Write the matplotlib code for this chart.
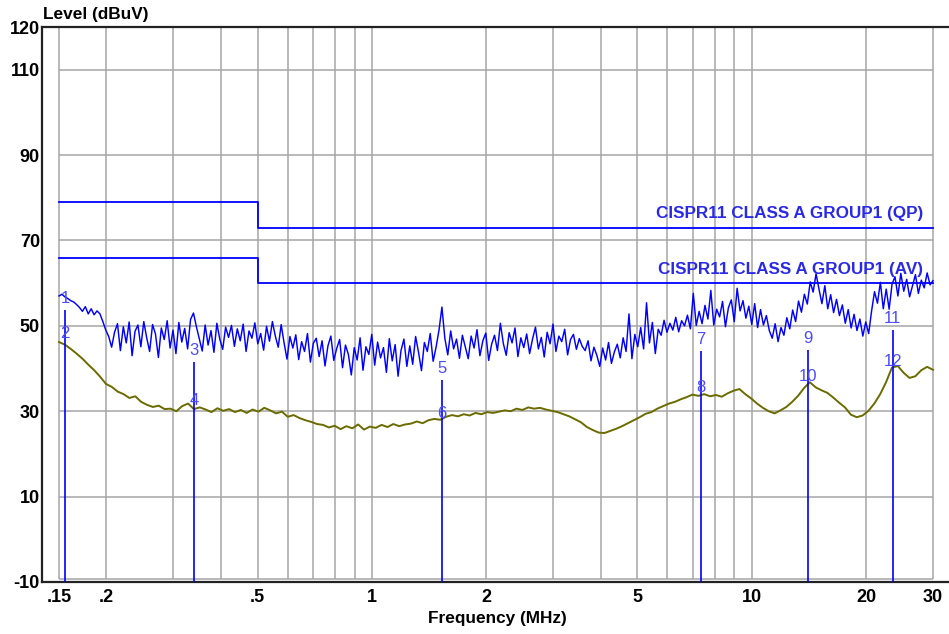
import numpy as np
import matplotlib
matplotlib.use("Agg")
import matplotlib.pyplot as plt

plt.rcParams["font.family"] = ["Liberation Sans", "DejaVu Sans"]

# ── DATA ──────────────────────────────────────────────────────────────────────

# limit lines (MHz, dBuV), stepped at 0.5 MHz
limit_freq = [0.15, 0.5, 0.5, 30]
qp_limit   = [79, 79, 73, 73]
av_limit   = [66, 66, 60, 60]

# peak scan (blue) on a log-spaced sweep 0.15 .. 30 MHz
peak_level = [
    57.0, 57.4, 56.8, 56.4, 55.9, 55.6, 55.0, 54.3, 53.4, 54.5, 52.8, 54.0, 52.6, 53.5, 52.8, 51.0, 49.0, 47.5, 45.0, 48.5,
    50.5, 44.2, 49.8, 46.0, 50.9, 43.0, 48.7, 50.2, 45.1, 51.0, 47.2, 44.0, 50.3, 48.1, 42.6, 49.5, 46.8, 51.2, 44.8, 49.0,
    43.5, 50.8, 46.2, 49.4, 44.6, 51.5, 53.0, 49.8, 47.0, 44.1, 50.2, 45.5, 48.9, 43.8, 50.6, 46.9, 44.5, 49.7, 47.3, 50.1,
    45.2, 49.3, 46.5, 50.4, 44.0, 48.8, 47.1, 50.7, 45.8, 48.2, 44.3, 49.9, 46.4, 51.0, 47.6, 45.0, 50.3, 46.0, 42.2, 47.5,
    44.8, 47.9, 42.1, 46.3, 44.0, 48.2, 41.5, 45.9, 47.1, 42.8, 46.5, 40.6, 45.3, 47.6, 41.9, 44.7, 46.8, 40.2, 45.5, 43.3,
    38.5, 44.9, 42.0, 47.2, 39.6, 45.1, 43.3, 48.0, 40.8, 46.2, 42.5, 44.9, 39.1, 47.0, 41.8, 45.6, 38.2, 44.2, 46.9, 40.5,
    45.3, 41.0, 47.5, 43.8, 39.5, 46.1, 44.0, 48.2, 41.7, 45.0, 49.0, 54.4, 47.1, 43.2, 48.8, 44.6, 46.9, 42.4, 47.8, 45.1,
    42.3, 47.6, 44.8, 49.1, 43.0, 46.5, 48.3, 41.9, 45.7, 47.8, 44.2, 50.6, 45.9, 43.1, 48.4, 46.0, 49.5, 42.8, 47.2, 44.9,
    48.1, 43.5, 46.9, 49.7, 44.6, 47.3, 42.7, 48.5, 45.8, 50.4, 44.0, 47.6, 46.3, 49.2, 43.2, 46.8, 48.0, 44.5, 47.0, 45.2,
    44.2, 46.5, 41.8, 45.0, 43.1, 40.5, 44.8, 42.0, 46.1, 41.2, 43.9, 45.7, 42.5, 47.2, 44.0, 52.8, 42.3, 48.0, 45.1, 49.6,
    44.6, 55.4, 46.0, 50.8, 43.5, 49.2, 47.8, 51.3, 48.5, 50.6, 49.0, 52.0, 48.6, 51.2, 50.0, 52.5, 49.3, 57.6, 50.1, 53.4,
    50.5, 54.8, 51.6, 58.3, 50.2, 53.9, 52.1, 55.7, 49.8, 54.2, 56.1, 51.0, 58.8, 53.5, 55.9, 51.8, 54.6, 50.3, 55.2, 49.6,
    53.8, 50.2, 52.4, 48.9, 47.1, 50.5, 46.3, 49.6, 47.8, 51.9, 49.3, 53.7, 51.0, 55.8, 53.2, 57.4, 55.1, 60.3, 57.9, 62.2,
    58.6, 55.2, 59.4, 54.0, 57.3, 53.1, 56.2, 52.4, 54.9, 50.6, 53.8, 49.5, 52.7, 48.9, 51.6, 47.6, 50.9, 48.2, 53.5, 58.0,
    55.3, 60.2, 54.0, 58.6, 53.9, 59.8, 61.5, 57.0, 62.3, 58.1, 60.9, 56.8, 59.4, 62.0, 57.6, 60.7, 58.9, 62.4, 59.6, 60.6,
]

# average scan (olive), same sweep, coarser reading
avg_level = [
    46.2, 45.6, 44.6, 43.5, 42.3, 40.9, 39.6, 38.1, 36.4, 35.7, 34.6, 34.0, 33.1, 33.5, 32.2,
    31.5, 31.0, 31.3, 30.5, 30.6, 30.0, 31.2, 31.8, 30.5, 30.9, 30.4, 29.8, 30.7, 30.1, 30.5,
    29.8, 30.3, 29.6, 30.4, 29.9, 30.8, 30.2, 29.5, 29.9, 28.7, 29.1, 28.4, 27.9, 27.5, 27.0,
    26.8, 26.2, 26.6, 25.8, 26.5, 26.0, 26.9, 25.7, 26.4, 26.1, 26.8, 26.3, 27.0, 26.5, 26.9,
    27.1, 27.6, 27.2, 27.9, 28.2, 28.0, 28.7, 29.1, 28.8, 29.3, 29.0, 29.6, 29.3, 29.8, 29.6,
    29.9, 30.2, 30.0, 30.6, 30.3, 30.9, 30.6, 30.8, 30.4, 30.1, 29.8, 29.3, 28.8, 28.1, 27.4,
    26.3, 25.6, 25.0, 24.9, 25.4, 25.9, 26.5, 27.2, 27.9, 28.6, 29.4, 29.8, 30.6, 31.2, 31.8,
    32.2, 32.8, 33.3, 33.9, 33.6, 34.0, 33.5, 33.8, 33.4, 34.2, 34.8, 35.2, 34.0, 33.0, 31.8,
    30.8, 30.0, 29.5, 30.2, 31.0, 32.2, 33.6, 35.4, 36.8, 35.6, 34.9, 34.3, 33.2, 32.0, 30.9,
    29.2, 28.6, 29.0, 30.1, 31.8, 34.0, 36.8, 40.2, 40.6, 39.0, 37.8, 38.2, 39.6, 40.4, 39.7,
]

# final measurement markers: odd numbers QP, even numbers AV
marker_freq = [0.1555, 0.340, 1.53, 7.35, 14.07, 23.5]
marker_qp   = [53.7, 41.5, 37.3, 44.1, 44.3, 49.0]
marker_av   = [45.5, 29.8, 26.8, 32.9, 35.4, 39.0]

grid_freq   = [0.15, 0.2, 0.3, 0.4, 0.5, 0.6, 0.7, 0.8, 0.9, 1, 2, 3, 4, 5, 6, 7, 8, 9, 10, 20, 30]
grid_level  = [10, 30, 50, 70, 90, 110]
xtick_freq  = [0.15, 0.2, 0.5, 1, 2, 5, 10, 20, 30]
xtick_text  = [".15", ".2", ".5", "1", "2", "5", "10", "20", "30"]
ytick_level = [-10, 10, 30, 50, 70, 90, 110, 120]

BLUE  = "#0000ff"
OLIVE = "#6b6b00"
GRID  = "#a6a6a6"
MARK  = "#4b4bff"

# ── PLOT ──────────────────────────────────────────────────────────────────────

W, H = 949, 634
fig = plt.figure(figsize=(W / 100, H / 100), dpi=100)
ax = fig.add_axes([42 / W, 52 / H, 907 / W, 555 / H])

ax.set_xscale("log")
ax.set_xlim(0.1353, 33.06)
ax.set_ylim(-10, 120)

# grid, limited to the 0.15..30 MHz box
ax.vlines(grid_freq, -9.4, 120, color=GRID, lw=1.1, zorder=1)
ax.hlines(grid_level + [-9.4], 0.15, 30, color=GRID, lw=1.1, zorder=1)

# limit lines
ax.plot(limit_freq, qp_limit, color=BLUE, lw=1.3, zorder=3)
ax.plot(limit_freq, av_limit, color=BLUE, lw=1.3, zorder=3)
ax.text(28.2, 76.2, "CISPR11 CLASS A GROUP1 (QP)", color="#2a2ae6",
        fontsize=12.3, fontweight="bold", ha="right", va="center", zorder=5)
ax.text(28.2, 63.3, "CISPR11 CLASS A GROUP1 (AV)", color="#2a2ae6",
        fontsize=12.3, fontweight="bold", ha="right", va="center", zorder=5)

# traces
peak_freq = np.geomspace(0.15, 30, len(peak_level))
avg_freq  = np.geomspace(0.15, 30, len(avg_level))
ax.plot(peak_freq, peak_level, color=BLUE, lw=1.05, zorder=4)
ax.plot(avg_freq, avg_level, color=OLIVE, lw=1.4, zorder=4)

# markers
ax.vlines(marker_freq, -10, marker_qp, color=BLUE, lw=1.2, zorder=4)
for i, (f, qp, av) in enumerate(zip(marker_freq, marker_qp, marker_av)):
    for n, val in ((2 * i + 1, qp), (2 * i + 2, av)):
        ax.annotate(str(n), (f, val), xytext=(0, 8.5), textcoords="offset points",
                    ha="center", va="center", fontsize=12, color=MARK, zorder=6)

# axes styling
for side in ("left", "top", "bottom"):
    ax.spines[side].set_color("#222222")
    ax.spines[side].set_linewidth(1.6)
ax.spines["right"].set_visible(False)

ax.set_xticks(xtick_freq)
ax.set_xticklabels(xtick_text)
ax.xaxis.set_minor_locator(matplotlib.ticker.NullLocator())
ax.set_yticks(ytick_level)
ax.set_yticklabels([str(v) for v in ytick_level])
ax.tick_params(axis="x", length=0, pad=5, labelsize=13)
ax.tick_params(axis="y", length=0, pad=1.5, labelsize=13)
for lab in ax.get_xticklabels() + ax.get_yticklabels():
    lab.set_fontweight("bold")

fig.text(43 / W, 1 - 15 / H, "Level (dBuV)", fontsize=12.4, fontweight="bold",
         ha="left", va="center")
fig.text(497 / W, 1 - 619 / H, "Frequency (MHz)", fontsize=12.4, fontweight="bold",
         ha="center", va="center")

fig.savefig("out.png", dpi=100, facecolor="white")
